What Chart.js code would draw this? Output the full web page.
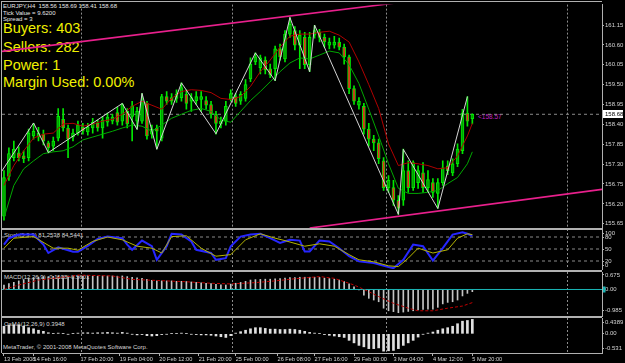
<!DOCTYPE html>
<html><head><meta charset="utf-8">
<script src="https://cdn.jsdelivr.net/npm/chart.js@4.4.0/dist/chart.umd.min.js"></script>
<style>
html,body{margin:0;padding:0;background:#000;}
#wrap{position:relative;width:625px;height:363px;overflow:hidden;background:#000;}
canvas{position:absolute;left:0;top:0;}
.t{position:absolute;white-space:pre;font-family:"Liberation Sans",Arial,sans-serif;}
.hdr{color:#e6e6e6;font-size:6px;line-height:6px;left:3px;}
.big{color:#f0f000;font-size:14.5px;line-height:14.5px;left:3px;}
.lbl{color:#d8d8d8;font-size:6px;line-height:6px;}
.ln{position:absolute;background:#b0b0b0;}
</style></head><body>
<div id="wrap">
<div class="t hdr" style="top:2.7px">EURJPY,H4  158.56 158.69 158.41 158.68</div>
<div class="t hdr" style="top:9.7px">Tick Value = 9.6200</div>
<div class="t hdr" style="top:16.3px">Spread = 3</div>
<div class="t big" style="top:21px">Buyers: 403</div>
<div class="t big" style="top:40px">Sellers: 282</div>
<div class="t big" style="top:57.7px">Power: 1</div>
<div class="t big" style="top:75.4px">Margin Used: 0.00%</div>
<div class="t lbl" style="left:478px;top:114.3px;color:#c020c0;font-size:6.5px">&lt;158.57</div>
<div class="t lbl" style="left:4px;top:232px">Stoch(5,3,3) 81.2538 84.5441</div>
<div class="t lbl" style="left:4px;top:274.3px">MACD(12,26,9) -0.1108 -0.5601</div>
<div class="t lbl" style="left:4px;top:320.7px">OsMA(12,26,9) 0.3948</div>
<div class="t lbl" style="left:3px;top:344px">MetaTrader, © 2001-2008 MetaQuotes Software Corp.</div>
<canvas id="c1" width="625" height="363"></canvas>
<canvas id="c2" width="625" height="363"></canvas>
<canvas id="c3" width="625" height="363"></canvas>
<canvas id="c4" width="625" height="363"></canvas>
<div class="ln" style="left:1px;top:1px;width:601px;height:1px"></div>
<div class="ln" style="left:1px;top:1px;width:1px;height:352px"></div>
<div class="ln" style="left:1px;top:228px;width:601px;height:2px"></div>
<div class="ln" style="left:1px;top:270px;width:601px;height:2px"></div>
<div class="ln" style="left:1px;top:316px;width:601px;height:2px"></div>
</div>
<script>
// ---------- DATA ----------
const xTickIdx = [0, 6, 15.5, 23.5, 31.5, 39.5, 47, 55.5, 63, 71, 79, 87, 95];
const xTickLabels = ['13 Feb 2008','14 Feb 16:00','17 Feb 20:00','19 Feb 04:00','20 Feb 12:00','21 Feb 20:00','25 Feb 00:00','26 Feb 08:00','27 Feb 16:00','29 Feb 00:00','3 Mar 04:00','4 Mar 12:00','5 Mar 20:00'];
const vLines = [15.6, 46.3, 77.5, 114.2];

const opens = [155.86,156.96,157.48,157.61,157.53,157.48,158.08,158.05,158.13,157.89,
157.80,158.02,158.54,158.30,158.05,158.16,158.32,158.19,158.30,158.43,
158.30,158.46,158.49,158.73,158.49,158.76,158.62,158.49,158.49,158.98,
158.13,158.30,158.02,159.17,159.14,159.12,159.14,159.23,159.04,159.06,
159.09,159.06,158.95,158.68,158.41,158.49,159.09,159.17,159.04,159.12,
159.66,160.13,159.97,160.18,159.94,159.94,160.49,160.21,160.90,161.00,
160.59,160.81,160.05,160.87,160.95,160.81,160.59,160.59,160.68,160.54,
160.27,159.39,158.93,158.90,158.27,157.99,157.89,157.39,156.65,156.65,
156.30,156.30,157.12,156.65,156.79,157.06,156.65,156.79,156.49,156.79,
157.25,157.06,157.31,157.67,158.71,158.56];
const highs = [157.12,157.75,157.94,157.78,157.67,158.27,158.43,158.32,158.24,157.94,
158.05,158.84,158.84,158.38,158.27,158.49,158.43,158.43,158.57,158.52,
158.62,158.71,158.68,158.87,158.98,158.84,159.04,158.87,159.25,159.04,
158.38,158.38,159.23,159.31,159.25,159.36,159.55,159.36,159.25,159.31,
159.31,159.17,159.04,158.76,158.60,159.04,159.36,159.25,159.31,159.64,
160.24,160.38,160.32,160.27,160.07,160.57,160.62,161.00,161.36,161.11,
161.00,160.95,160.95,161.14,161.03,160.90,160.79,160.84,160.79,160.62,
160.32,159.47,159.14,158.98,158.43,158.10,157.99,157.48,156.98,156.85,
156.43,157.72,157.39,157.39,157.25,157.34,157.12,156.90,156.90,157.39,
157.39,157.45,157.86,158.82,159.17,158.69];
const lows = [155.75,156.85,157.39,157.39,157.34,157.39,157.99,157.94,157.83,157.61,
157.67,157.94,158.21,157.48,157.94,158.10,158.13,158.10,158.16,158.21,
158.02,158.35,158.41,158.38,158.38,158.30,157.94,158.27,158.43,157.99,
158.02,157.72,157.94,158.95,158.95,159.01,159.04,158.82,158.76,158.95,
158.76,158.82,158.57,158.13,158.30,158.38,159.04,158.90,158.95,159.04,
159.58,160.05,159.80,159.80,159.69,159.61,160.18,160.13,160.81,160.46,
159.94,159.94,159.86,160.79,160.68,160.54,160.49,160.51,160.46,160.07,
159.25,158.95,158.82,158.13,157.80,157.67,157.31,156.57,156.52,156.16,
155.91,156.16,156.52,156.57,156.63,156.52,156.54,156.38,156.08,156.71,
157.01,156.98,157.23,157.59,158.35,158.41];
const closes = [156.93,157.59,157.72,157.48,157.45,158.16,158.21,158.16,157.94,157.75,
157.94,158.62,158.30,157.99,158.16,158.38,158.21,158.32,158.46,158.30,
158.52,158.60,158.60,158.46,158.95,158.41,158.90,158.76,159.04,158.08,
158.27,158.21,159.17,159.04,159.04,159.23,159.42,158.98,159.14,159.17,
159.17,158.93,158.68,158.43,158.49,158.90,159.25,158.98,159.23,159.50,
160.07,160.27,160.24,159.91,159.77,160.49,160.27,160.90,161.17,160.59,
160.87,160.05,160.81,161.00,160.81,160.68,160.68,160.68,160.54,160.27,
159.39,159.04,159.04,158.27,157.99,157.89,157.45,156.65,156.85,156.30,
156.08,157.12,156.65,157.34,157.12,156.65,156.87,156.52,156.79,157.20,
157.12,157.31,157.72,158.71,158.49,158.68];

const redMA = [[0,156.71],[2,157.26],[4,157.67],[6,158.02],[8,158.13],[10,158.16],[12,158.41],[14,158.43],[16,158.35],[18,158.41],[20,158.49],[22,158.54],[24,158.68],[26,158.90],[28,159.04],[30,158.93],[32,158.82],[34,159.12],[36,159.31],[38,159.36],[40,159.34],[42,159.28],[44,159.12],[46,159.09],[48,159.17],[50,159.45],[52,159.86],[54,160.18],[56,160.54],[58,160.84],[60,160.90],[62,160.90],[64,160.95],[66,160.98],[68,160.87],[70,160.68],[72,160.13],[74,159.50],[76,158.84],[78,157.86],[80,157.26],[82,157.34],[84,157.31],[86,157.26],[88,157.17],[90,157.20],[92,157.53],[94,158.08],[95,158.43]];
const greenMA = [[0,155.81],[2,156.71],[4,157.17],[6,157.39],[8,157.59],[10,157.64],[12,157.67],[14,157.78],[16,157.97],[18,158.05],[20,158.13],[22,158.21],[24,158.30],[26,158.38],[28,158.35],[30,158.21],[32,158.38],[34,158.57],[36,158.68],[38,158.79],[40,158.84],[42,158.76],[44,158.52],[46,158.46],[48,158.76],[50,159.06],[52,159.31],[54,159.58],[56,159.86],[58,160.10],[60,160.24],[62,160.21],[64,160.32],[66,160.43],[68,160.38],[70,160.05],[72,159.53],[74,158.82],[76,158.08],[78,157.31],[80,156.63],[82,156.49],[84,156.49],[86,156.52],[88,156.57],[90,156.76],[92,156.93],[94,157.31],[95,157.64]];
const zigzag = [[-1,156.99],[6,158.44],[9,157.62],[24,158.98],[27,158.26],[28,159.26],[31,157.71],[36,159.55],[43,158.14],[51,160.38],[55,159.61],[58,161.36],[62,159.86],[63,161.15],[80,155.91],[81,157.71],[88,156.07],[94,159.17]];
const channelUpper = [[-0.4,160.42],[80,161.77]];
const channelLower = [[62,155.53],[121.3,156.60]];
const priceTicks = [161.15,160.60,160.05,159.50,158.95,158.40,157.85,157.30,156.75,156.20,155.65];

const stochMain = [[0,61],[1,77],[3,86],[6,86],[8,61],[9,40],[11,54],[14,43],[15,43],[17,58],[19,75],[21,81],[24,77],[25,61],[26,48],[28,71],[30,57],[31,23],[33,57],[34,88],[36,86],[38,69],[39,48],[42,40],[43,23],[45,27],[46,57],[48,81],[50,86],[52,88],[54,77],[56,65],[58,73],[60,71],[61,44],[62,44],[64,71],[66,69],[68,52],[70,32],[72,19],[75,15],[78,5],[79,2],[81,23],[83,61],[85,57],[87,21],[89,52],[91,86],[93,92],[94,88],[95,83]];
const stochSignal = [[0,52],[2,77],[6,81],[10,52],[13,52],[15,47],[18,69],[21,80],[24,73],[27,57],[30,52],[32,40],[34,81],[37,83],[40,52],[43,32],[46,36],[49,73],[52,88],[55,77],[57,71],[61,57],[64,63],[67,57],[70,36],[72,23],[75,18],[78,8],[80,6],[82,27],[84,52],[87,40],[90,48],[92,77],[94,88],[95,86]];
const stochLevels = [80, 50, 20];
const stochTicks = [100, 80, 50, 20, 0];

const macdMain = [0.21,0.27,0.33,0.40,0.46,0.51,0.55,0.58,0.60,0.60,
0.61,0.63,0.63,0.62,0.61,0.61,0.61,0.61,0.62,0.62,
0.63,0.63,0.63,0.62,0.63,0.60,0.57,0.54,0.52,0.47,
0.43,0.40,0.40,0.40,0.40,0.38,0.38,0.37,0.35,0.33,
0.31,0.29,0.27,0.24,0.22,0.21,0.25,0.29,0.33,0.38,
0.44,0.46,0.47,0.48,0.48,0.50,0.51,0.53,0.55,0.56,
0.57,0.57,0.57,0.57,0.56,0.53,0.51,0.48,0.44,0.37,
0.26,0.12,-0.02,-0.26,-0.41,-0.49,-0.57,-0.87,-0.99,-1.03,
-1.08,-1.05,-1.02,-0.99,-0.95,-0.93,-0.92,-0.92,-0.83,-0.67,
-0.60,-0.57,-0.49,-0.30,-0.18,-0.10];
const macdSignal = [[0,0.0],[3,0.21],[7,0.44],[13,0.60],[15,0.67],[22,0.63],[26,0.47],[32,0.41],[37,0.36],[42,0.29],[46,0.26],[51,0.32],[55,0.40],[59,0.50],[64,0.60],[67,0.52],[71,0.21],[74,-0.10],[76,-0.33],[79,-0.64],[82,-0.87],[84,-0.99],[87,-0.99],[90,-0.87],[93,-0.77],[95,-0.61]];
const macdTicks = [0.675, 0, -0.985];
const macdTickLabels = ['0.675','0.00','-0.985'];

const osma = [0.21,0.24,0.25,0.24,0.21,0.17,0.14,0.10,0.07,0.03,
0.01,0.02,0.01,-0.01,0.01,0.02,0.03,0.03,0.02,0.03,
0.03,0.04,0.03,0.02,0.04,0.02,-0.01,-0.03,-0.02,-0.05,
-0.06,-0.05,-0.02,-0.01,0.01,0.01,0.02,0.01,-0.01,-0.02,
-0.03,-0.03,-0.04,-0.06,-0.08,-0.10,-0.05,0.02,0.06,0.10,
0.14,0.17,0.17,0.15,0.13,0.13,0.12,0.12,0.13,0.12,
0.10,0.07,0.04,0.02,0.01,-0.02,-0.04,-0.06,-0.08,-0.10,
-0.18,-0.25,-0.32,-0.36,-0.41,-0.41,-0.39,-0.48,-0.47,-0.46,
-0.41,-0.32,-0.25,-0.18,-0.09,-0.01,0.02,0.05,0.10,0.14,
0.17,0.21,0.28,0.35,0.37,0.40];
const osmaTicks = [0.4389, 0, -0.531];
const osmaTickLabels = ['0.4389','0.00','-0.531'];

// ---------- RENDER ----------
const X_MIN = -0.4, X_MAX = 121.3;
const FONT = '"Liberation Sans", Arial, sans-serif';
const AX = '#b0b0b0', TXT = '#d4d4d4';
Chart.defaults.elements.point.radius = 0;
Chart.defaults.elements.line.tension = 0;
Chart.defaults.font.family = FONT;

const pts = a => a.map(p => ({x: p[0], y: p[1]}));
const hline = v => [{x: X_MIN, y: v}, {x: X_MAX, y: v}];

function makeX(show) {
  return {
    type: 'linear', min: X_MIN, max: X_MAX, bounds: 'data', display: show, offset: false,
    afterBuildTicks: s => { s.ticks = xTickIdx.map(v => ({value: v})); },
    afterFit: s => { s.height = show ? 10 : 0; },
    ticks: {autoSkip: false, maxRotation: 0, minRotation: 0, align: 'start', padding: 0,
      color: TXT, font: {family: FONT, size: 5.6}, callback: (v, i) => xTickLabels[i]},
    grid: {display: true, offset: false, drawOnChartArea: false, drawTicks: true, tickLength: 3, tickColor: AX},
    border: {display: true, color: AX}
  };
}
function makeY(min, max, vals, labels, insetPx, paneH) {
  const inset = insetPx * (max - min) / paneH;
  return {
    type: 'linear', position: 'right', min: min, max: max, bounds: 'data',
    afterBuildTicks: s => { s.ticks = vals.map(v => ({value: Math.min(max - inset, Math.max(min + inset, v))})); },
    afterFit: s => { s.width = 23; },
    ticks: {autoSkip: false, padding: 1, color: TXT, font: {family: FONT, size: 6}, callback: (v, i) => labels[i]},
    grid: {display: true, drawOnChartArea: false, drawTicks: true, tickLength: 2, tickColor: AX},
    border: {display: true, color: AX}
  };
}
const vlinePlugin = {
  id: 'vlines',
  beforeDatasetsDraw(chart) {
    const ctx = chart.ctx, a = chart.chartArea, x = chart.scales.x;
    ctx.save();
    ctx.strokeStyle = '#8c8c8c'; ctx.lineWidth = 1; ctx.setLineDash([2, 2]);
    vLines.forEach(v => {
      const px = Math.round(x.getPixelForValue(v)) + 0.5;
      ctx.beginPath(); ctx.moveTo(px, a.top); ctx.lineTo(px, a.bottom); ctx.stroke();
    });
    ctx.restore();
  }
};
const priceBox = {
  id: 'priceBox',
  afterDraw(chart) {
    const last = closes[closes.length - 1];
    const y = Math.round(chart.scales.y.getPixelForValue(last));
    const ctx = chart.ctx;
    ctx.save();
    ctx.fillStyle = '#ffffff'; ctx.fillRect(603, y - 4, 20, 8);
    ctx.fillStyle = '#000000'; ctx.font = '6px ' + FONT; ctx.textBaseline = 'middle';
    ctx.fillText(last.toFixed(2), 605, y);
    ctx.restore();
  }
};
const zeroBox = {
  id: 'zeroBox',
  afterDraw(chart) {
    const y = chart.scales.y.getPixelForValue(0);
    const ctx = chart.ctx;
    ctx.save(); ctx.fillStyle = '#1ab5b5'; ctx.fillRect(603, y - 3, 2.5, 6); ctx.restore();
  }
};
const base = {responsive: false, animation: false, events: [],
  plugins: {legend: {display: false}, tooltip: {enabled: false}}};

// main pane
const bodies = opens.map((o, i) => ({x: i, y: [o, closes[i]]}));
const wicks = lows.map((l, i) => ({x: i, y: [l, highs[i]]}));
const bodyColors = opens.map((o, i) => closes[i] >= o ? '#00a000' : '#e8281c');
const PINK = '#e8208c';
new Chart(document.getElementById('c1'), {
  type: 'bar',
  data: {datasets: [
    {type: 'line', data: pts(channelUpper), borderColor: PINK, borderWidth: 1.6},
    {type: 'line', data: pts(channelLower), borderColor: PINK, borderWidth: 1.6},
    {type: 'line', data: pts(zigzag), borderColor: '#d4d4d4', borderWidth: 1},
    {type: 'line', data: pts(redMA), borderColor: '#b00000', borderWidth: 1},
    {type: 'line', data: pts(greenMA), borderColor: '#00a800', borderWidth: 1},
    {type: 'bar', data: bodies, backgroundColor: bodyColors, borderColor: '#00e800', borderWidth: 1, borderSkipped: false, barThickness: 3, grouped: false},
    {type: 'bar', data: wicks, backgroundColor: '#00e800', barThickness: 1, grouped: false},
    {type: 'line', data: hline(closes[closes.length - 1]), borderColor: '#8a8a8a', borderWidth: 1, borderDash: [3, 3]}
  ]},
  options: Object.assign({}, base, {
    layout: {padding: {left: 2, right: 0, top: 2, bottom: 135}},
    scales: {x: makeX(false), y: makeY(155.532, 161.716, priceTicks, priceTicks.map(v => v.toFixed(2)), 0, 226)}
  }),
  plugins: [vlinePlugin, priceBox]
});

// stochastic pane
new Chart(document.getElementById('c2'), {
  type: 'line',
  data: {datasets: [
    {data: pts(stochSignal), borderColor: '#b4b400', borderWidth: 1},
    {data: pts(stochMain), borderColor: '#2626ff', borderWidth: 2},
    ...stochLevels.map(v => ({data: hline(v), borderColor: '#8a8a8a', borderWidth: 1, borderDash: [3, 3]}))
  ]},
  options: Object.assign({}, base, {
    layout: {padding: {left: 2, right: 0, top: 229, bottom: 94}},
    scales: {x: makeX(false), y: makeY(0, 100, stochTicks, stochTicks.map(String), 4, 40)}
  }),
  plugins: [vlinePlugin]
});

// MACD pane
new Chart(document.getElementById('c3'), {
  type: 'bar',
  data: {datasets: [
    {type: 'line', data: pts(macdSignal), borderColor: '#c00000', borderWidth: 1, borderDash: [3, 2]},
    {type: 'line', data: hline(0), borderColor: '#1ab5b5', borderWidth: 1},
    {type: 'bar', data: macdMain.map((v, i) => ({x: i, y: v})), backgroundColor: '#c4c4c4', barThickness: 1, grouped: false}
  ]},
  options: Object.assign({}, base, {
    layout: {padding: {left: 2, right: 0, top: 272, bottom: 47}},
    scales: {x: makeX(false), y: makeY(-1.233, 0.814, macdTicks, macdTickLabels, 0, 44)}
  }),
  plugins: [vlinePlugin, zeroBox]
});

// OsMA pane
new Chart(document.getElementById('c4'), {
  type: 'bar',
  data: {datasets: [
    {type: 'bar', data: osma.map((v, i) => ({x: i, y: v})), backgroundColor: '#e0e0e0', barThickness: 2, grouped: false}
  ]},
  options: Object.assign({}, base, {
    layout: {padding: {left: 2, right: 0, top: 318, bottom: 0}},
    scales: {x: makeX(true), y: makeY(-0.531, 0.4389, osmaTicks, osmaTickLabels, 4.5, 35)}
  }),
  plugins: [vlinePlugin]
});
</script>
</body></html>
